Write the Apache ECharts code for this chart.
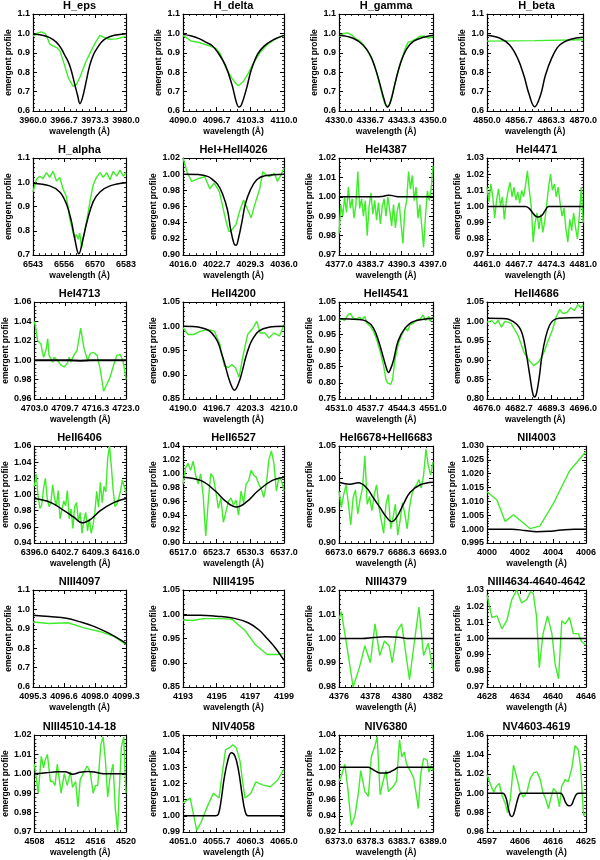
<!DOCTYPE html>
<html>
<head>
<meta charset="utf-8">
<title>emergent profiles</title>
<script src="https://cdn.jsdelivr.net/npm/echarts@6/dist/echarts.min.js"></script>
<style>
html, body { margin: 0; padding: 0; background: #fff; }
#chart { width: 600px; height: 860px; }
</style>
</head>
<body>
<div id="chart"></div>
<script>
// panel titles, axis ranges and label precision
var titles = ['H_eps', 'H_delta', 'H_gamma', 'H_beta',
  'H_alpha', 'HeI+HeII4026', 'HeI4387', 'HeI4471',
  'HeI4713', 'HeII4200', 'HeII4541', 'HeII4686',
  'HeII6406', 'HeII6527', 'HeI6678+HeII6683', 'NII4003',
  'NIII4097', 'NIII4195', 'NIII4379', 'NIII4634-4640-4642',
  'NIII4510-14-18', 'NIV4058', 'NIV6380', 'NV4603-4619'];
var xRanges = [[3960, 3980], [4090, 4110], [4330, 4350], [4850, 4870],
  [6543, 6583], [4016, 4036], [4377, 4397], [4461, 4481],
  [4703, 4723], [4190, 4210], [4531, 4551], [4676, 4696],
  [6396, 6416], [6517, 6537], [6673, 6693], [4000, 4006],
  [4095.3, 4099.3], [4193, 4199], [4376, 4382], [4628, 4646],
  [4508, 4520], [4051, 4065], [6373, 6389], [4597, 4625]];
var xTickDigits = [1, 1, 1, 1, 0, 1, 1, 1, 1, 1, 1, 1, 1, 1, 1, 0, 1, 0, 0, 0, 0, 1, 1, 0];
var yRanges = [[0.6, 1.1, 0.1], [0.6, 1.1, 0.1], [0.6, 1.1, 0.1], [0.6, 1.1, 0.1],
  [0.7, 1.1, 0.1], [0.90, 1.02, 0.02], [0.97, 1.02, 0.01], [0.97, 1.03, 0.01],
  [0.96, 1.06, 0.02], [0.85, 1.05, 0.05], [0.75, 1.05, 0.05], [0.80, 1.05, 0.05],
  [0.94, 1.06, 0.02], [0.90, 1.04, 0.02], [0.90, 1.05, 0.05], [0.995, 1.030, 0.005],
  [0.6, 1.1, 0.1], [0.85, 1.05, 0.05], [0.98, 1.02, 0.01], [0.97, 1.03, 0.01],
  [0.97, 1.02, 0.01], [0.99, 1.05, 0.01], [0.92, 1.04, 0.02], [0.96, 1.06, 0.02]];
var yTickDigits = [1, 1, 1, 1, 1, 2, 2, 2, 2, 2, 2, 2, 2, 2, 2, 3, 1, 2, 2, 2, 2, 2, 2, 2];

// observed (green) and model (black) profiles, [wavelength, flux]
var hEpsObs = [[3960,0.985],[3960.8,1.0],[3961.8,1.008],[3962.6,1.0],[3963.2,0.97],[3963.6,0.945],[3964.3,0.936],[3965.2,0.925],[3965.8,0.91],[3966.8,0.835],[3967.6,0.77],[3968.6,0.728],[3969.3,0.735],[3970.2,0.78],[3971.3,0.85],[3972.5,0.91],[3973.6,0.96],[3974.4,0.99],[3975.2,0.98],[3976.4,0.97],[3978,0.972],[3980,0.985]];
var hEpsModel = [[3960,0.995],[3962,0.99],[3963.6,0.978],[3965,0.955],[3966,0.925],[3966.7,0.894],[3967.9,0.835],[3969,0.735],[3969.6,0.68],[3970.1,0.638],[3970.6,0.665],[3971.2,0.726],[3972.2,0.835],[3973,0.89],[3973.7,0.92],[3974.7,0.955],[3975.8,0.976],[3977.5,0.99],[3980,0.998]];
var hDeltaObs = [[4090,0.99],[4091.6,0.961],[4093.2,0.953],[4095.2,0.936],[4096.5,0.923],[4097.4,0.894],[4098.4,0.827],[4099.7,0.768],[4100.6,0.738],[4101,0.731],[4101.9,0.751],[4102.9,0.793],[4103.9,0.844],[4105.2,0.9],[4106.8,0.945],[4108.4,0.973],[4110,0.99]];
var hDeltaModel = [[4090,0.995],[4091.5,0.988],[4093.2,0.973],[4094.5,0.955],[4095.8,0.936],[4097.1,0.894],[4098.4,0.835],[4099.7,0.735],[4100.6,0.642],[4101.1,0.62],[4101.6,0.634],[4102.6,0.718],[4103.5,0.81],[4104.8,0.894],[4106.1,0.936],[4108.1,0.97],[4110,0.99]];
var hGammaObs = [[4330,0.985],[4331,1.0],[4331.8,1.003],[4332.8,0.99],[4333.7,0.97],[4334.5,0.96],[4335.4,0.935],[4336.3,0.9],[4337.2,0.855],[4338.1,0.79],[4339,0.70],[4339.7,0.64],[4340.2,0.625],[4340.7,0.63],[4341.4,0.69],[4342.2,0.77],[4343.1,0.85],[4344,0.915],[4344.7,0.955],[4345.3,0.958],[4346.3,0.97],[4347.2,0.985],[4348.2,0.985],[4349.2,0.975],[4350,0.985]];
var hGammaModel = [[4330,0.99],[4333,0.975],[4335.1,0.94],[4336.6,0.89],[4337.6,0.83],[4338.7,0.74],[4339.6,0.66],[4340.3,0.62],[4341,0.65],[4341.9,0.74],[4343,0.84],[4344.4,0.92],[4345.9,0.96],[4348,0.98],[4350,0.99]];
var hBetaObs = [[4850,0.96],[4860,0.963],[4870,0.967]];
var hBetaModel = [[4850,0.99],[4852.7,0.975],[4854.7,0.94],[4856.4,0.87],[4857.7,0.78],[4858.7,0.69],[4859.9,0.622],[4861.1,0.68],[4862.1,0.78],[4863.4,0.87],[4865.1,0.94],[4867.4,0.97],[4870,0.98]];
var hAlphaObs = [[6543,0.96],[6544.4,1.01],[6545.9,1.025],[6547.3,1.015],[6548.8,1.04],[6550.2,1.02],[6551.6,1.045],[6553.1,1.005],[6554.5,1.02],[6556,0.97],[6557.4,0.94],[6558.8,0.85],[6560.3,0.79],[6561,0.77],[6561.7,0.785],[6562.4,0.765],[6563.1,0.79],[6563.9,0.73],[6564.6,0.77],[6566,0.835],[6567.5,0.92],[6568.9,0.99],[6570.3,1.02],[6571.8,1.04],[6573.2,1.02],[6574.7,1.04],[6576.1,1.01],[6577.5,1.045],[6579,1.025],[6580.4,1.05],[6581.9,1.025],[6583,1.04]];
var hAlphaModel = [[6543,0.996],[6550.2,0.985],[6554.5,0.96],[6557.4,0.91],[6559.5,0.84],[6560.9,0.77],[6562.7,0.705],[6564.6,0.77],[6566.3,0.84],[6568.9,0.92],[6571.8,0.96],[6576.1,0.985],[6583,0.998]];
var he4026Obs = [[4016,1.02],[4016.8,1.003],[4017.7,0.991],[4019.3,0.995],[4020.3,0.997],[4021.3,0.982],[4022.2,0.989],[4023.2,0.978],[4023.8,0.962],[4024.5,0.942],[4025.1,0.929],[4025.7,0.931],[4026.5,0.938],[4027.2,0.954],[4028,0.968],[4028.8,0.956],[4029.5,0.946],[4030.2,0.962],[4031.2,0.982],[4031.8,1.003],[4032.5,0.999],[4033.1,0.997],[4034.1,1.001],[4034.7,0.991],[4035.4,0.999],[4036,1.008]];
var he4026Model = [[4016,1.0],[4019,0.9995],[4021,0.997],[4021.9,0.993],[4022.9,0.987],[4023.8,0.976],[4024.8,0.956],[4025.4,0.933],[4026.1,0.914],[4026.5,0.912],[4027,0.921],[4027.7,0.942],[4028.3,0.962],[4029.3,0.98],[4030.6,0.993],[4032.2,0.998],[4036,1.0]];
var he4387Obs = [[4377.0,0.981],[4377.4,0.996],[4377.8,0.990],[4378.2,1.000],[4378.6,0.992],[4379.0,1.005],[4379.4,0.994],[4379.8,0.999],[4380.2,0.989],[4380.6,0.996],[4381.0,1.013],[4381.4,0.994],[4381.8,0.999],[4382.2,0.990],[4382.6,0.998],[4383.0,0.980],[4383.4,0.995],[4383.8,1.002],[4384.2,0.991],[4384.6,0.998],[4385.0,0.988],[4385.4,0.997],[4385.8,0.986],[4386.2,0.995],[4386.6,0.999],[4387.0,0.990],[4387.4,1.000],[4387.8,0.993],[4388.2,0.985],[4388.6,0.996],[4389.0,0.984],[4389.4,0.993],[4389.8,0.997],[4390.2,0.986],[4390.6,0.976],[4391.0,0.993],[4391.4,0.998],[4391.8,1.013],[4392.2,1.004],[4392.6,1.011],[4393.0,0.998],[4393.4,1.005],[4393.8,0.989],[4394.2,0.996],[4394.6,0.985],[4395.0,0.974],[4395.4,0.990],[4395.8,1.003],[4396.2,0.998],[4396.6,1.004],[4397.0,1.016]];
var he4387Model = [[4377,1.0],[4385,1.0],[4386,1.0001],[4386.8,1.0005],[4387.6,1.0008],[4388.4,1.0006],[4389.2,1.0001],[4390,1.0],[4397,1.0]];
var he4471Obs = [[4461.0,1.012],[4461.4,1.003],[4461.8,1.014],[4462.2,1.006],[4462.6,0.993],[4463.0,1.004],[4463.4,1.011],[4463.8,1.000],[4464.2,1.006],[4464.6,0.992],[4465.0,1.003],[4465.4,1.010],[4465.8,1.015],[4466.2,1.006],[4466.6,1.012],[4467.0,1.004],[4467.4,1.009],[4467.8,1.002],[4468.2,1.010],[4468.6,1.006],[4469.0,1.013],[4469.4,1.022],[4469.8,1.010],[4470.2,1.000],[4470.6,0.978],[4471.0,0.990],[4471.4,0.996],[4471.8,0.986],[4472.2,0.995],[4472.6,0.984],[4473.0,0.991],[4473.4,1.001],[4473.8,1.012],[4474.2,1.020],[4474.6,1.010],[4475.0,1.014],[4475.4,1.006],[4475.8,1.012],[4476.2,1.002],[4476.6,0.994],[4477.0,0.999],[4477.4,0.986],[4477.8,0.978],[4478.2,0.992],[4478.6,0.985],[4479.0,0.996],[4479.4,0.987],[4479.8,0.980],[4480.2,0.995],[4480.6,1.012],[4481.0,0.990]];
var he4471Model = [[4461,1.0],[4469,1.0],[4469.7,0.999],[4470.4,0.9965],[4471.1,0.994],[4471.7,0.9935],[4472.4,0.9945],[4473.1,0.9975],[4473.8,1.0],[4481,1.0]];
var he4713Obs = [[4703,1.04],[4703.4,1.03],[4703.7,1.02],[4704.4,1.017],[4705,1.003],[4705.5,1.01],[4705.9,1.022],[4706.2,1.005],[4707,0.998],[4707.3,1.003],[4708,1.0],[4708.8,0.995],[4709.5,0.993],[4710.2,0.997],[4710.6,1.003],[4710.9,0.998],[4711.6,1.005],[4712.3,1.01],[4713.1,1.033],[4713.8,1.013],[4714.6,1.0],[4715.2,1.007],[4715.9,1.008],[4716.7,1.005],[4717.4,0.99],[4718.1,0.968],[4718.8,0.975],[4719.5,0.982],[4720.3,0.995],[4721,1.005],[4721.7,1.006],[4722.3,1.0],[4722.6,0.993],[4723,0.98]];
var he4713Model = [[4703,1.0],[4710,1.0],[4711.5,0.9997],[4713,0.9995],[4714.5,0.9997],[4716,1.0],[4723,1.0]];
var heII4200Obs = [[4190,0.997],[4191,0.983],[4192.1,0.983],[4193.5,0.99],[4194.9,0.993],[4196.2,0.99],[4197.3,0.963],[4198.2,0.918],[4199,0.915],[4199.7,0.921],[4200.4,0.914],[4201.1,0.895],[4201.8,0.935],[4202.8,0.983],[4203.9,0.997],[4204.6,1.01],[4205.3,0.986],[4206.3,0.986],[4207,0.976],[4208,0.986],[4209.1,0.98],[4210,1.003]];
var heII4200Model = [[4190,1.0],[4192,0.9995],[4194,0.996],[4195.3,0.99],[4196.3,0.978],[4197,0.965],[4197.6,0.945],[4198.2,0.925],[4199.3,0.885],[4200.2,0.868],[4201.1,0.885],[4201.8,0.91],[4202.4,0.935],[4203.1,0.958],[4203.7,0.972],[4205,0.99],[4207,0.998],[4210,1.0]];
var heII4541Obs = [[4531,0.995],[4531.5,0.998],[4532.2,0.993],[4532.9,1.01],[4533.4,1.015],[4534,1.0],[4534.7,0.998],[4535.4,1.003],[4535.8,0.995],[4536.5,1.005],[4536.9,0.985],[4537.6,0.976],[4538.3,0.96],[4539,0.935],[4539.7,0.9],[4540.4,0.86],[4541,0.81],[4541.3,0.8],[4541.7,0.805],[4542,0.795],[4542.4,0.81],[4542.9,0.87],[4543.6,0.92],[4544.4,0.95],[4545.1,0.97],[4545.6,0.96],[4546.1,0.98],[4546.9,0.985],[4547.6,0.995],[4548.3,0.998],[4548.9,1.01],[4549.4,0.993],[4550.1,1.005],[4550.4,0.99],[4551,1.003]];
var heII4541Model = [[4531,0.998],[4535,0.996],[4536.9,0.99],[4538.3,0.97],[4539.4,0.93],[4540.4,0.88],[4541.1,0.845],[4541.5,0.832],[4541.9,0.84],[4542.6,0.87],[4543.6,0.93],[4545.1,0.97],[4546.9,0.99],[4551,1.0]];
var heII4686Obs = [[4676,0.998],[4677,1.002],[4677.7,0.993],[4678.3,1.003],[4679,0.985],[4679.7,1.0],[4680.4,0.998],[4681,0.995],[4681.7,0.98],[4682.4,0.965],[4683,0.945],[4683.7,0.92],[4684.7,0.9],[4685.7,0.886],[4686.7,0.895],[4687.7,0.916],[4688.7,0.95],[4689.6,0.978],[4690.4,1.012],[4691.1,1.03],[4691.8,1.02],[4692.6,1.023],[4693.4,1.035],[4694.1,1.028],[4694.9,1.043],[4695.5,1.035],[4696,1.043]];
var heII4686Model = [[4676,1.008],[4680,1.007],[4681.4,1.0],[4682.7,0.985],[4683.4,0.965],[4684,0.93],[4684.9,0.86],[4685.5,0.815],[4685.9,0.805],[4686.3,0.815],[4686.9,0.86],[4687.4,0.91],[4688.2,0.96],[4689,0.99],[4689.8,1.003],[4691,1.008],[4696,1.01]];
var heII6406Obs = [[6396.0,1.010],[6396.4,1.025],[6396.8,0.998],[6397.2,0.983],[6397.6,0.987],[6398.0,1.008],[6398.4,1.020],[6398.8,0.995],[6399.2,0.985],[6399.6,0.990],[6400.0,1.012],[6400.4,0.995],[6400.8,0.986],[6401.2,1.005],[6401.6,0.970],[6402.0,0.972],[6402.4,0.992],[6402.8,0.986],[6403.2,1.005],[6403.6,0.970],[6404.0,0.982],[6404.4,0.958],[6404.8,0.985],[6405.2,0.990],[6405.6,0.966],[6406.0,0.978],[6406.4,0.952],[6406.8,0.968],[6407.2,0.978],[6407.6,0.955],[6408.0,0.970],[6408.4,0.952],[6408.8,0.962],[6409.2,0.978],[6409.6,1.004],[6410.0,0.984],[6410.4,1.015],[6410.8,0.990],[6411.2,1.010],[6411.6,1.003],[6412.0,1.045],[6412.4,1.060],[6412.8,1.035],[6413.2,1.005],[6413.6,0.985],[6414.0,0.988],[6414.4,0.995],[6414.8,1.004],[6415.2,1.018],[6415.6,1.010],[6416.0,1.002]];
var heII6406Model = [[6396,0.995],[6399.6,0.99],[6402.5,0.98],[6404.6,0.972],[6406.4,0.965],[6408.2,0.969],[6410.4,0.98],[6413.3,0.99],[6416,0.995]];
var heII6527Obs = [[6517.0,0.985],[6517.5,1.008],[6518.0,1.015],[6518.5,1.005],[6519.0,1.018],[6519.5,0.998],[6520.0,0.985],[6520.5,1.000],[6521.0,0.968],[6521.5,0.910],[6522.0,0.960],[6522.5,1.000],[6523.0,0.995],[6523.5,0.975],[6524.0,0.950],[6524.5,0.965],[6525.0,0.930],[6525.5,0.945],[6526.0,0.960],[6526.5,0.965],[6527.0,0.955],[6527.5,0.962],[6528.0,0.940],[6528.5,0.975],[6529.0,0.958],[6529.5,0.985],[6530.0,0.990],[6530.5,1.005],[6531.0,0.998],[6531.5,0.995],[6532.0,0.985],[6532.5,0.978],[6533.0,0.966],[6533.5,0.985],[6534.0,1.020],[6534.5,1.033],[6535.0,1.015],[6535.5,0.975],[6536.0,0.995],[6536.5,0.990],[6537.0,0.975]];
var heII6527Model = [[6517,0.995],[6520.6,0.99],[6523.4,0.975],[6525.5,0.96],[6527.6,0.952],[6529.7,0.96],[6531.8,0.975],[6534.6,0.99],[6537,0.995]];
var he6678Obs = [[6673.0,0.980],[6673.5,0.955],[6674.0,0.975],[6674.5,0.990],[6675.0,0.960],[6675.5,0.928],[6676.0,0.970],[6676.5,0.982],[6677.0,0.945],[6677.5,0.968],[6678.0,0.985],[6678.5,1.035],[6679.0,0.960],[6679.5,0.972],[6680.0,0.950],[6680.5,0.975],[6681.0,0.990],[6681.5,0.955],[6682.0,0.935],[6682.5,0.915],[6683.0,0.960],[6683.5,0.975],[6684.0,0.922],[6684.5,0.940],[6685.0,0.960],[6685.5,0.912],[6686.0,0.935],[6686.5,0.962],[6687.0,0.945],[6687.5,0.922],[6688.0,0.955],[6688.5,0.975],[6689.0,0.985],[6689.5,0.990],[6690.0,0.998],[6690.5,0.985],[6691.0,1.005],[6691.5,1.045],[6692.0,1.020],[6692.5,1.005],[6693.0,1.025]];
var he6678Model = [[6673,0.994],[6675.3,0.991],[6677.1,0.993],[6678.9,0.985],[6680.3,0.97],[6681.7,0.955],[6683.1,0.94],[6684.2,0.933],[6685.3,0.94],[6686.7,0.96],[6688.1,0.978],[6690.3,0.99],[6693,0.994]];
var nII4003Obs = [[4000,1.0135],[4000.6,1.0105],[4001.1,1.0028],[4001.6,1.0052],[4002.6,1.0002],[4003.2,1.0011],[4004,1.009],[4005,1.021],[4006,1.028]];
var nII4003Model = [[4000,1.0],[4001.5,1.0],[4002.3,0.9995],[4003,0.9991],[4003.7,0.9992],[4004.5,0.9997],[4005.3,1.0],[4006,1.0]];
var nIII4097Obs = [[4095.3,0.935],[4096.0,0.927],[4096.8,0.931],[4097.5,0.905],[4098.2,0.885],[4098.8,0.86],[4099.3,0.82]];
var nIII4097Model = [[4095.3,0.97],[4096,0.963],[4096.74,0.954],[4097.3,0.937],[4097.89,0.914],[4098.6,0.875],[4099.3,0.825]];
var nIII4195Obs = [[4193,0.988],[4193.6,0.987],[4194.2,0.991],[4195,0.991],[4195.9,0.99],[4196.7,0.966],[4197.3,0.937],[4198,0.917],[4198.6,0.917],[4199,0.919]];
var nIII4195Model = [[4193,0.998],[4194,0.998],[4195,0.996],[4196,0.992],[4196.9,0.982],[4197.5,0.968],[4198,0.95],[4198.5,0.93],[4199,0.905]];
var nIII4379Obs = [[4376,1.008],[4376.15,1.011],[4376.5,0.997],[4376.9,0.98],[4377.3,0.988],[4377.65,0.997],[4378,0.99],[4378.3,1.006],[4378.6,0.993],[4378.9,0.999],[4379.2,0.997],[4379.4,0.99],[4379.7,1.003],[4380,1.006],[4380.5,0.983],[4381.1,1.013],[4381.4,0.993],[4381.7,0.998],[4382,0.987]];
var nIII4379Model = [[4376,1.0],[4377.5,1.0],[4378.2,1.0004],[4379,1.0007],[4379.8,1.0005],[4380.5,1.0],[4382,1.0]];
var nIII4634Obs = [[4628,1.027],[4628.9,1.013],[4629.8,1.014],[4630.7,1.006],[4631.6,1.011],[4632.5,1.024],[4633.4,1.03],[4634.3,1.022],[4635.2,1.024],[4635.9,1.029],[4636.4,1.028],[4637,1.014],[4637.5,0.982],[4638.2,1.003],[4639,1.014],[4639.8,1.003],[4640.4,0.984],[4641,0.975],[4641.6,1.011],[4642.2,1.009],[4643,1.013],[4643.7,1.003],[4644.6,1.003],[4645.2,0.998],[4646,0.996]];
var nIII4634Model = [[4628,1.0],[4637,1.0],[4646,1.0]];
var nIII4510Obs = [[4508,1.005],[4508.2,1.004],[4508.5,0.99],[4508.9,1.009],[4509.2,1.003],[4509.4,1.007],[4509.7,1.01],[4510.1,0.996],[4510.4,0.996],[4510.7,0.994],[4511,1.005],[4511.5,0.99],[4511.9,1.0],[4512.3,0.994],[4512.7,1.001],[4513,0.993],[4513.4,0.996],[4513.7,0.983],[4514,0.997],[4514.5,1.001],[4514.9,1.004],[4515.3,1.001],[4515.7,0.99],[4516,0.994],[4516.3,0.994],[4516.7,1.015],[4517,1.019],[4517.3,1.007],[4517.6,0.988],[4517.9,0.998],[4518.3,1.005],[4518.6,0.982],[4518.9,0.97],[4519.1,0.99],[4519.4,1.014],[4519.7,1.019],[4519.9,0.998],[4520,0.99]];
var nIII4510Model = [[4508,1.0],[4509.5,1.0005],[4511,1.001],[4512,1.001],[4513,0.9998],[4514,1.0008],[4515,1.0012],[4516,1.0008],[4517,1.0],[4520,1.0]];
var nIV4058Obs = [[4051,1.008],[4052,1.011],[4052.9,0.991],[4053.5,0.996],[4054.4,1.006],[4055.2,1.014],[4056,1.011],[4056.4,1.025],[4056.9,1.041],[4057.4,1.042],[4057.9,1.044],[4058.4,1.042],[4058.9,1.034],[4059.3,1.020],[4059.6,1.011],[4060.4,1.014],[4061.1,1.021],[4062.1,1.019],[4063.1,1.018],[4064.1,1.022],[4065,1.029]];
var nIV4058Model = [[4051,1.0],[4054,1.0],[4055.5,1.0],[4055.9,1.001],[4056.3,1.01],[4056.7,1.023],[4057.2,1.034],[4057.7,1.039],[4058.2,1.037],[4058.7,1.028],[4059.2,1.013],[4059.6,1.003],[4060,1.0],[4061.5,1.0],[4065,1.0]];
var nIV6380Obs = [[6373,0.983],[6373.4,0.989],[6374,1.004],[6374.5,0.974],[6375.1,0.928],[6375.7,0.94],[6376.3,0.968],[6376.7,0.996],[6377.4,0.97],[6378,0.964],[6378.5,1.013],[6379.1,1.026],[6379.5,1.038],[6380,0.966],[6380.5,0.983],[6381,0.996],[6381.4,0.97],[6382.3,0.977],[6382.8,0.983],[6383.3,1.034],[6383.7,1.013],[6384.1,1.019],[6384.5,1.004],[6385.1,0.996],[6385.7,0.987],[6386.3,0.96],[6386.5,0.949],[6386.9,0.991],[6387.4,1.011],[6388,1.009],[6388.3,0.994],[6388.7,1.002],[6389,0.996]];
var nIV6380Model = [[6373,1.0],[6376,1.0],[6378,1.0],[6378.6,0.998],[6379.3,0.995],[6380,0.993],[6380.8,0.993],[6381.6,0.994],[6382.4,0.997],[6383.2,1.0],[6385,1.0],[6389,1.0]];
var nV4603Obs = [[4597,1.019],[4597.9,1.010],[4598.9,1.001],[4599.6,1.007],[4600.5,1.010],[4601.2,0.998],[4602.2,0.989],[4602.8,0.98],[4603.6,0.994],[4604.5,1.029],[4605.5,1.015],[4606.4,1.001],[4607.3,0.996],[4608.3,1.001],[4609.2,1.015],[4610.2,1.021],[4611.1,1.022],[4612,1.015],[4612.8,1.001],[4613.7,0.993],[4614.4,0.984],[4615,0.994],[4615.8,1.005],[4616.7,1.001],[4617.5,0.986],[4618.1,1.007],[4619.1,1.014],[4620,1.012],[4621,1.026],[4621.9,1.049],[4622.8,1.045],[4623.5,1.026],[4624.3,0.977],[4625,0.98]];
var nV4603Model = [[4597,1.0],[4600,1.0],[4601.5,1.0],[4602.3,0.996],[4603,0.985],[4603.6,0.977],[4604.1,0.976],[4604.7,0.98],[4605.4,0.99],[4606.2,0.999],[4606.8,1.0],[4612,1.0],[4617.8,1.0],[4618.5,0.997],[4619.3,0.99],[4620.1,0.987],[4620.9,0.988],[4621.6,0.994],[4622.3,0.999],[4623,1.0],[4625,1.0]];

var panels = [
  [hEpsObs, hEpsModel], [hDeltaObs, hDeltaModel], [hGammaObs, hGammaModel], [hBetaObs, hBetaModel],
  [hAlphaObs, hAlphaModel], [he4026Obs, he4026Model], [he4387Obs, he4387Model], [he4471Obs, he4471Model],
  [he4713Obs, he4713Model], [heII4200Obs, heII4200Model], [heII4541Obs, heII4541Model], [heII4686Obs, heII4686Model],
  [heII6406Obs, heII6406Model], [heII6527Obs, heII6527Model], [he6678Obs, he6678Model], [nII4003Obs, nII4003Model],
  [nIII4097Obs, nIII4097Model], [nIII4195Obs, nIII4195Model], [nIII4379Obs, nIII4379Model], [nIII4634Obs, nIII4634Model],
  [nIII4510Obs, nIII4510Model], [nIV4058Obs, nIV4058Model], [nIV6380Obs, nIV6380Model], [nV4603Obs, nV4603Model]];

// page layout of the 6 x 4 panel grid
var colLeft = [33, 183, 339, 487];
var colWidth = [93, 101, 94, 99];
var rowTop = [14, 158, 302, 446, 590, 735];
var boxHeight = 97;
var fontFam = '"Liberation Sans", Arial, Helvetica, sans-serif';
var green = '#3fec2a';

function makeAxis(dim, i, lo, hi, step, digits, mirror) {
  var ax = {
    type: 'value',
    gridIndex: i,
    min: lo,
    max: hi,
    interval: step,
    position: dim === 'x' ? (mirror ? 'top' : 'bottom') : (mirror ? 'right' : 'left'),
    axisLine: { show: true, onZero: false, lineStyle: { color: '#000', width: 1.2 } },
    axisTick: { show: true, inside: true, length: 4, lineStyle: { color: '#000', width: 1 } },
    minorTick: { show: true, splitNumber: 5, length: 2, lineStyle: { color: '#000', width: 0.8 } },
    splitLine: { show: false },
    axisLabel: {
      show: !mirror,
      showMinLabel: true,
      showMaxLabel: true,
      color: '#000',
      fontFamily: fontFam,
      fontWeight: 'bold',
      fontSize: 9,
      margin: dim === 'x' ? 5 : 3,
      formatter: function (v) { return v.toFixed(digits); }
    }
  };
  if (!mirror) {
    ax.name = dim === 'x' ? 'wavelength (\u00c5)' : 'emergent profile';
    ax.nameLocation = 'middle';
    ax.nameGap = dim === 'x' ? 16 : 18;
    ax.nameTextStyle = { color: '#000', fontFamily: fontFam, fontWeight: 'bold', fontSize: 8.5 };
  }
  return ax;
}

var grids = [], xAxes = [], yAxes = [], series = [], titleList = [];
panels.forEach(function (p, i) {
  var c = i % 4, r = Math.floor(i / 4);
  grids.push({ left: colLeft[c], top: rowTop[r], width: colWidth[c], height: boxHeight });
  titleList.push({
    text: titles[i],
    left: colLeft[c] + colWidth[c] / 2,
    top: Math.max(0, rowTop[r] - 14),
    padding: 0,
    textAlign: 'center',
    textStyle: { color: '#000', fontFamily: fontFam, fontWeight: 'bold', fontSize: 11 }
  });
  var xr = xRanges[i], yr = yRanges[i];
  var xStep = (xr[1] - xr[0]) / 3;
  xAxes.push(makeAxis('x', i, xr[0], xr[1], xStep, xTickDigits[i], false));
  xAxes.push(makeAxis('x', i, xr[0], xr[1], xStep, xTickDigits[i], true));
  yAxes.push(makeAxis('y', i, yr[0], yr[1], yr[2], yTickDigits[i], false));
  yAxes.push(makeAxis('y', i, yr[0], yr[1], yr[2], yTickDigits[i], true));
  series.push({
    name: titles[i] + ' observed',
    type: 'line',
    xAxisIndex: 2 * i,
    yAxisIndex: 2 * i,
    data: p[0],
    showSymbol: false,
    lineStyle: { color: green, width: 1.4 },
    z: 2
  });
  series.push({
    name: titles[i] + ' model',
    type: 'line',
    xAxisIndex: 2 * i,
    yAxisIndex: 2 * i,
    data: p[1],
    smooth: 0.4,
    showSymbol: false,
    lineStyle: { color: '#000', width: i === 8 ? 2 : 1.5 },
    z: 3
  });
});

var myChart = echarts.init(document.getElementById('chart'));
myChart.setOption({
  animation: false,
  backgroundColor: '#fff',
  title: titleList,
  grid: grids,
  xAxis: xAxes,
  yAxis: yAxes,
  series: series
});
</script>
</body>
</html>
